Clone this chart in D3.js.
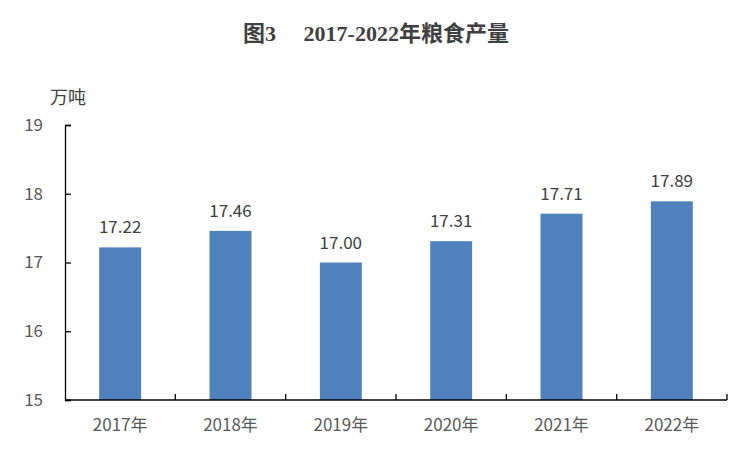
<!DOCTYPE html>
<html>
<head>
<meta charset="utf-8">
<script src="https://cdn.jsdelivr.net/npm/d3@7"></script>
<style>
  body { margin: 0; background: #fff; }
  text { font-family: "Noto Sans CJK SC", "DejaVu Sans", sans-serif; }
</style>
</head>
<body>
<div id="chart"></div>
<script>
// chart data
const years = ["2017年", "2018年", "2019年", "2020年", "2021年", "2022年"];
const output = [17.22, 17.46, 17.00, 17.31, 17.71, 17.89];
const yTicks = [15, 16, 17, 18, 19];

const W = 750, H = 450;
const margin = {top: 125, right: 23, bottom: 50, left: 65};
const width = W - margin.left - margin.right,
      height = H - margin.top - margin.bottom;

const svg = d3.select("#chart").append("svg")
    .attr("width", W).attr("height", H);

// title
svg.append("text")
    .attr("x", 376).attr("y", 41)
    .attr("text-anchor", "middle")
    .style("font-family", "'Liberation Serif', 'Noto Sans CJK SC', serif")
    .style("font-weight", "bold")
    .style("font-size", "22px")
    .attr("fill", "#404040")
    .text("图3\u3000 2017-2022年粮食产量");

// unit label
svg.append("text")
    .attr("x", 50).attr("y", 104)
    .style("font-size", "18px")
    .attr("fill", "#404040")
    .text("万吨");

const g = svg.append("g")
    .attr("transform", "translate(" + margin.left + "," + margin.top + ")");

const x = d3.scaleBand().domain(years).range([0, width]).paddingInner(0.62).paddingOuter(0.31);
const y = d3.scaleLinear().domain([15, 19]).range([height, 0]);

// bars
g.selectAll("rect.bar")
    .data(output)
    .enter().append("rect")
    .attr("class", "bar")
    .attr("x", (d, i) => x(years[i]))
    .attr("y", d => y(d))
    .attr("width", x.bandwidth())
    .attr("height", d => height - y(d))
    .attr("fill", "#4F81BD");

// value labels
g.selectAll("text.val")
    .data(output)
    .enter().append("text")
    .attr("class", "val")
    .attr("x", (d, i) => x(years[i]) + x.bandwidth() / 2)
    .attr("y", d => y(d) - 14)
    .attr("text-anchor", "middle")
    .style("font-size", "17px")
    .attr("fill", "#404040")
    .text(d => d.toFixed(2));

// y axis
const yAxis = g.append("g")
    .call(d3.axisLeft(y).tickValues(yTicks).tickFormat(d3.format("d")).tickSize(-6).tickPadding(22));
yAxis.select(".domain").attr("stroke", "#000").attr("stroke-width", 1.3);
yAxis.selectAll(".tick line").attr("stroke", "#000").attr("stroke-width", 1.3);
yAxis.selectAll(".tick text")
    .style("font-size", "17px")
    .style("font-family", "'Noto Sans CJK SC', sans-serif")
    .attr("fill", "#595959");

// x axis: ticks between categories
const step = x.step();
const xg = g.append("g").attr("transform", "translate(0," + height + ")");
xg.append("line")
    .attr("x1", 0).attr("x2", width)
    .attr("stroke", "#000").attr("stroke-width", 1.3);
xg.selectAll("line.tk")
    .data(d3.range(1, years.length + 1))
    .enter().append("line")
    .attr("class", "tk")
    .attr("x1", i => i * step).attr("x2", i => i * step)
    .attr("y1", 0).attr("y2", -6)
    .attr("stroke", "#000").attr("stroke-width", 1.3);
xg.selectAll("text")
    .data(years)
    .enter().append("text")
    .attr("x", d => x(d) + x.bandwidth() / 2)
    .attr("y", 31)
    .attr("text-anchor", "middle")
    .style("font-size", "17px")
    .attr("fill", "#595959")
    .text(d => d);
</script>
</body>
</html>
